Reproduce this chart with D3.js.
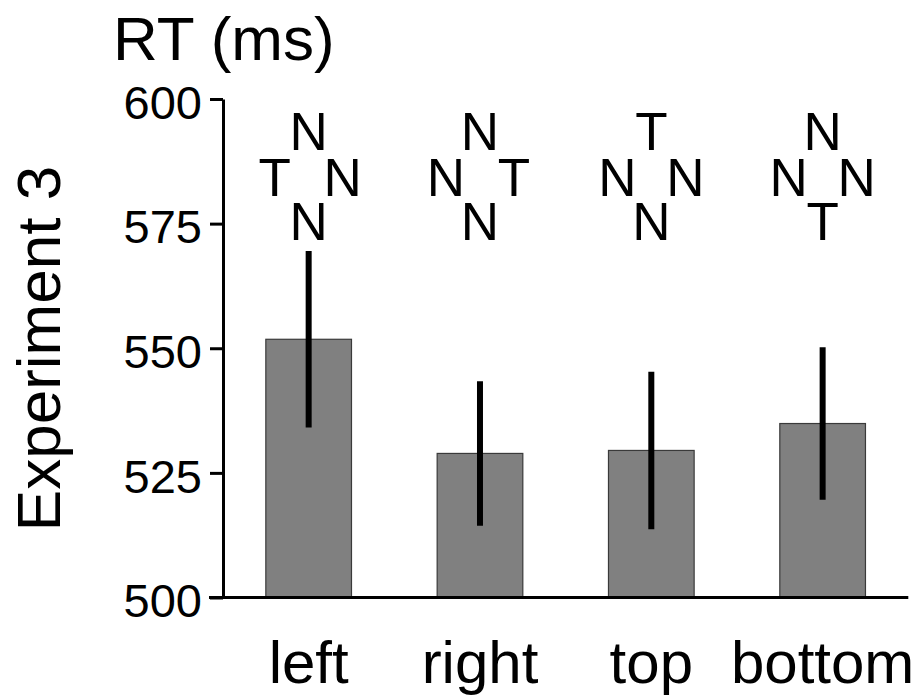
<!DOCTYPE html>
<html>
<head>
<meta charset="utf-8">
<script src="https://cdn.jsdelivr.net/npm/d3@7"></script>
<style>
  html, body { margin: 0; padding: 0; background: #fff; }
  svg { display: block; font-family: "Liberation Sans", Arial, Helvetica, sans-serif; }
</style>
</head>
<body>
<svg id="chart" width="924" height="700"></svg>
<script>
// Target location conditions, mean RT and error bar half-widths (ms)
const categories = ["left", "right", "top", "bottom"];
const meanRT = [551.8, 528.9, 529.5, 534.9];
const errRT = [17.7, 14.5, 15.8, 15.3];
const yTicks = [500, 525, 550, 575, 600];

// Letter display shown above each bar (T = target, N = non-target)
const stimTop = ["N", "N", "T", "N"];
const stimLeft = ["T", "N", "N", "N"];
const stimRight = ["N", "T", "N", "N"];
const stimBottom = ["N", "N", "N", "T"];

const svg = d3.select("#chart");

const y = d3.scaleLinear().domain([500, 600]).range([597.5, 99]);
const x = d3.scaleBand()
  .domain(categories)
  .range([223, 908.3])
  .paddingInner(0.5)
  .paddingOuter(0.25);

// Y axis
const yAxis = svg.append("g")
  .attr("transform", "translate(223,0)")
  .call(d3.axisLeft(y).tickValues(yTicks).tickSize(13).tickSizeOuter(0).tickPadding(8));
yAxis.select(".domain").attr("stroke", "#000").attr("stroke-width", 3);
yAxis.selectAll(".tick line").attr("stroke", "#000").attr("stroke-width", 3);
yAxis.selectAll(".tick text")
  .attr("font-size", 47)
  .attr("font-family", "Liberation Sans, Arial, sans-serif")
  .attr("fill", "#000")
  .attr("dy", "0.41em");

// Bars
const rows = categories.map((c, i) => ({ c, m: meanRT[i], e: errRT[i], i }));
svg.append("g").selectAll("rect")
  .data(rows)
  .join("rect")
  .attr("x", d => x(d.c))
  .attr("width", x.bandwidth())
  .attr("y", d => y(d.m))
  .attr("height", d => y(500) - y(d.m))
  .attr("fill", "#808080")
  .attr("stroke", "#3a3a3a")
  .attr("stroke-width", 1.2);

// Error bars
svg.append("g").selectAll("line")
  .data(rows)
  .join("line")
  .attr("x1", d => x(d.c) + x.bandwidth() / 2)
  .attr("x2", d => x(d.c) + x.bandwidth() / 2)
  .attr("y1", d => y(d.m + d.e))
  .attr("y2", d => y(d.m - d.e))
  .attr("stroke", "#000")
  .attr("stroke-width", 6);

// X baseline
svg.append("line")
  .attr("x1", 209).attr("x2", x.range()[1])
  .attr("y1", y(500)).attr("y2", y(500))
  .attr("stroke", "#000").attr("stroke-width", 3);

// Category labels
const xAxis = svg.append("g")
  .attr("transform", `translate(0,${y(500)})`)
  .call(d3.axisBottom(x).tickSize(0).tickPadding(0));
xAxis.select(".domain").remove();
xAxis.selectAll(".tick text")
  .attr("font-size", 60)
  .attr("font-family", "Liberation Sans, Arial, sans-serif")
  .attr("fill", "#000")
  .attr("y", 85.5)
  .attr("dy", 0);

// Letter displays
const stim = svg.append("g")
  .attr("font-size", 53)
  .attr("text-anchor", "middle")
  .attr("fill", "#000");
rows.forEach(d => {
  const cx = x(d.c) + x.bandwidth() / 2;
  const g = stim.append("g");
  g.append("text").attr("x", cx).attr("y", 150).text(stimTop[d.i]);
  g.append("text").attr("x", cx - 34).attr("y", 196).text(stimLeft[d.i]);
  g.append("text").attr("x", cx + 34).attr("y", 196).text(stimRight[d.i]);
  g.append("text").attr("x", cx).attr("y", 240).text(stimBottom[d.i]);
});

// Axis titles
svg.append("text")
  .attr("x", 113).attr("y", 60)
  .attr("font-size", 62)
  .attr("fill", "#000")
  .text("RT (ms)");

svg.append("text")
  .attr("transform", "translate(60,348.5) rotate(-90)")
  .attr("text-anchor", "middle")
  .attr("font-size", 62)
  .attr("fill", "#000")
  .text("Experiment 3");
</script>
</body>
</html>
